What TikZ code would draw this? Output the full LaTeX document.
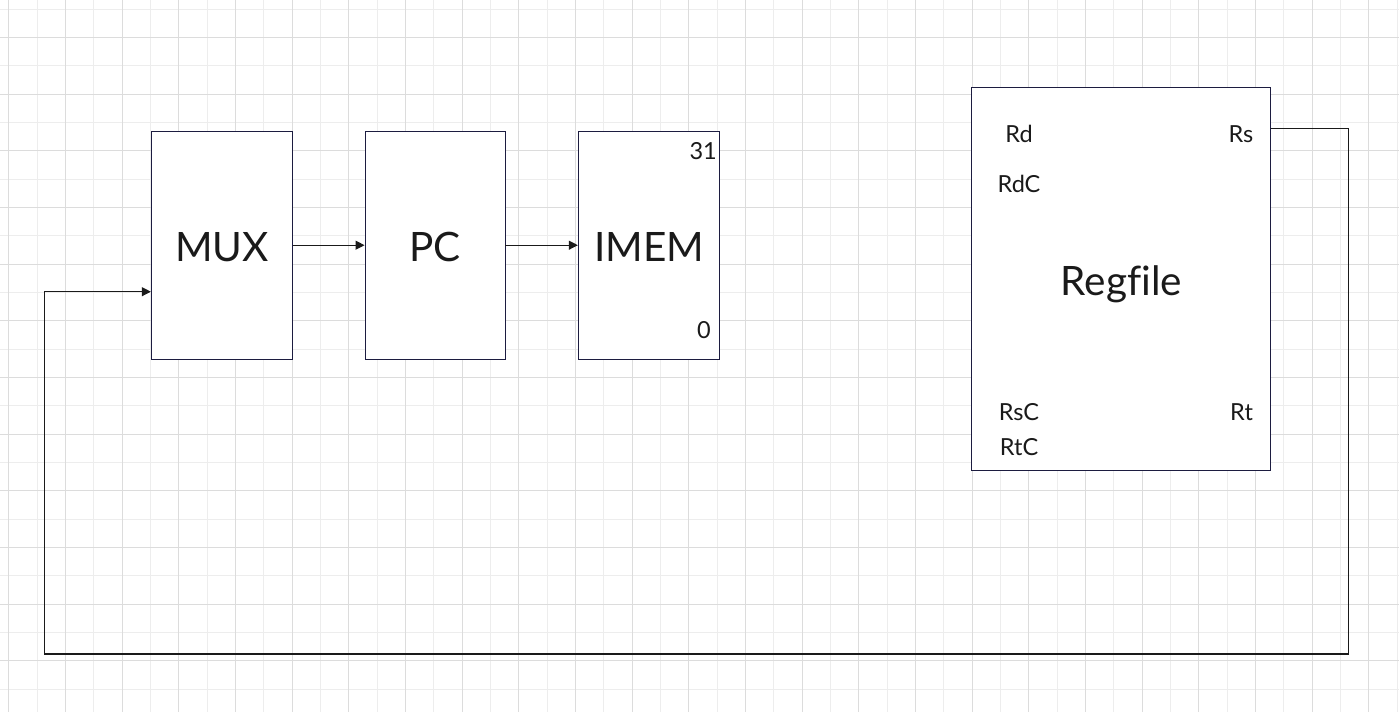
\documentclass[tikz,border=0pt]{standalone}
\usepackage{fontspec}
\setmainfont{Lato}[Ligatures=NoCommon]
\usetikzlibrary{arrows.meta}
\definecolor{gridmajor}{HTML}{DCDCDC}
\definecolor{gridminor}{HTML}{EDEDED}
\definecolor{boxedge}{HTML}{1C1C40}
\definecolor{ink}{HTML}{1A1A1A}
\begin{document}
\begin{tikzpicture}[x=1pt,y=-1pt,
  block/.style={draw=boxedge,line width=0.9pt,fill=white,inner sep=0pt,minimum width=#1},
  bigtext/.style={font=\fontsize{40.5}{41}\selectfont,text=ink},
  smalltext/.style={font=\fontsize{23.5}{24}\selectfont,text=ink,inner sep=0pt},
  wire/.style={draw=ink,line width=1.1pt},
  arrowwire/.style={wire,-{Triangle[length=9pt,width=9pt]}}]
\useasboundingbox (0,0) rectangle (1399,712);
\fill[white] (0,0) rectangle (1399,712);
% background grid
\foreach \k in {0,...,24} {
  \draw[gridminor,line width=0.9pt] ({37.0+56.67*\k},0) -- ({37.0+56.67*\k},712);
}
\foreach \k in {0,...,12} {
  \draw[gridminor,line width=0.9pt] (0,{9.0+56.67*\k}) -- (1399,{9.0+56.67*\k});
}
\foreach \k in {0,...,24} {
  \draw[gridmajor,line width=0.9pt] ({8.7+56.67*\k},0) -- ({8.7+56.67*\k},712);
}
\foreach \k in {0,...,11} {
  \draw[gridmajor,line width=0.9pt] (0,{37.3+56.67*\k}) -- (1399,{37.3+56.67*\k});
}
% blocks
\node[block=141pt,minimum height=227.7pt] (mux) at (221.8,245.2) {};
\node[block=140pt,minimum height=227.7pt] (pc) at (435,245.2) {};
\node[block=141pt,minimum height=227.7pt] (imem) at (648.8,245.2) {};
\node[block=298.6pt,minimum height=383.4pt] (regfile) at (1121,279) {};
% block titles
\node[bigtext,anchor=base,inner sep=0pt] (muxlabel) at (222,261.7) {MUX};
\node[bigtext,anchor=base,inner sep=0pt] (pclabel) at (435,261.7) {PC};
\node[bigtext,anchor=base,inner sep=0pt] (imemlabel) at (649,261.7) {IMEM};
\node[bigtext,anchor=base,inner sep=0pt] (regfilelabel) at (1121.5,295) {Regfile};
% port labels
\node[smalltext,anchor=base east] (imemtop) at (717,159) {31};
\node[smalltext,anchor=base east] (imembot) at (711,338.3) {0};
\node[smalltext,anchor=base] (rd) at (1019,142.3) {Rd};
\node[smalltext,anchor=base] (rdc) at (1019,192.3) {RdC};
\node[smalltext,anchor=base] (rs) at (1241,142.3) {Rs};
\node[smalltext,anchor=base] (rsc) at (1019,420.7) {RsC};
\node[smalltext,anchor=base] (rt) at (1241.5,420.7) {Rt};
\node[smalltext,anchor=base] (rtc) at (1019,455) {RtC};
% datapath wires
\draw[arrowwire] (mux.east) -- (pc.west);
\draw[arrowwire] (pc.east) -- (imem.west);
% feedback from Rs back into the MUX
\coordinate (rsy) at (0,128.3);
\coordinate (rsport) at (regfile.east |- rsy);
\coordinate (fbright) at (1348.3,654);
\coordinate (fbleft) at (44.3,654);
\coordinate (fbup) at (44.3,291.7);
\draw[arrowwire] (rsport) -- (rsport -| fbright) -- (fbright) -- (fbleft) -- (fbup) -- (mux.west |- fbup);
\end{tikzpicture}
\end{document}
